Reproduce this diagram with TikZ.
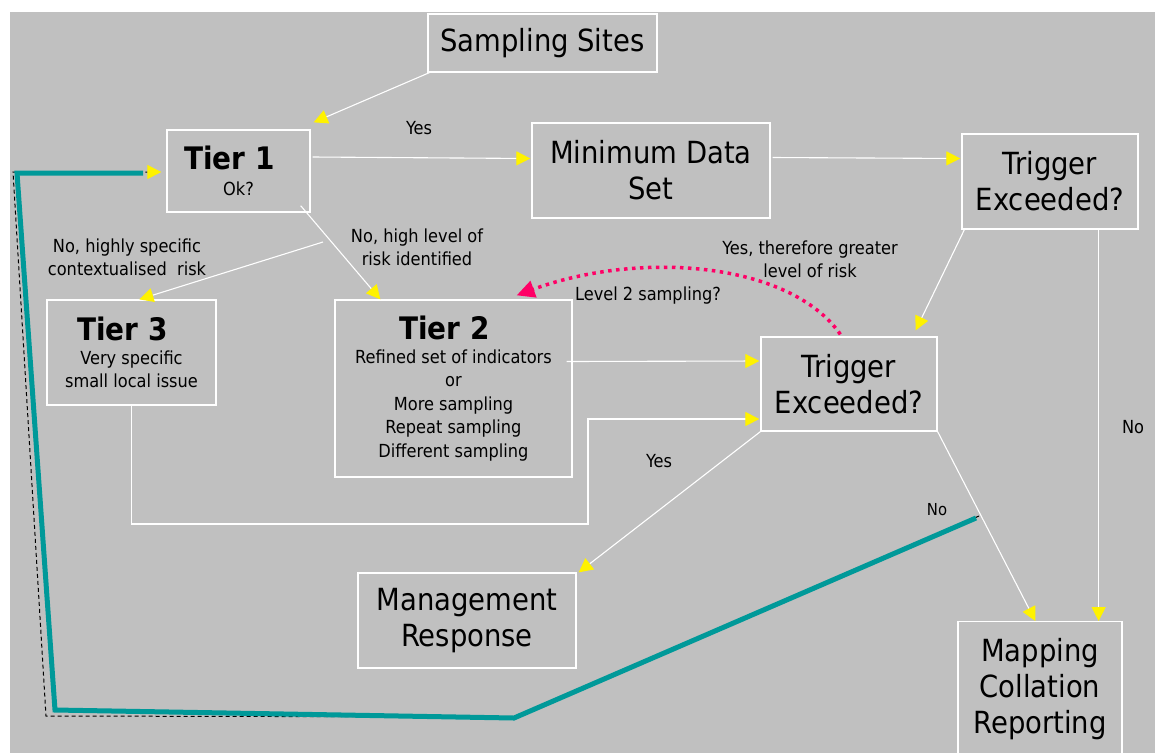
\documentclass[tikz,border=0pt]{standalone}
\usepackage{fontspec}
\setmainfont{DejaVu Sans Condensed}
\usetikzlibrary{arrows.meta,calc}
\definecolor{bg}{HTML}{C0C0C0}
\definecolor{tealline}{HTML}{009999}
\definecolor{pinkline}{HTML}{FF0066}
\newcommand\tierfont{\fontsize{31}{32}\selectfont\bfseries}
\newcommand\tierhead[1]{{\tierfont #1}\hspace*{18pt}}
\tikzset{
 box/.style={draw=white, line width=1.3pt, align=center, inner sep=0pt, text=black},
 big/.style={font=\fontsize{30.5}{36}\selectfont},
 mid/.style={font=\fontsize{18}{23.5}\selectfont},
 conn/.style={draw=white, line width=1.1pt, -{Triangle[length=14pt,width=14pt,color=yellow]}},
 lbl/.style={font=\fontsize{18}{23}\selectfont, align=center, inner sep=0pt},
}
\begin{document}
\begin{tikzpicture}[x=1pt,y=-1pt]
\fill[bg] (10,12) rectangle (1155,753);
\useasboundingbox (0,0) rectangle (1155,753);

% boxes
\node[box, big, minimum width=229pt, minimum height=58pt] (ss) at (542.5,43) {Sampling Sites};
\node[box, mid, minimum width=143pt, minimum height=82pt] (t1) at (238.5,171)
  {\tierhead{Tier 1}\\[2pt]Ok?};
\node[box, big, minimum width=238pt, minimum height=95pt] (mds) at (651,170.5) {Minimum Data\\Set};
\node[box, big, minimum width=176pt, minimum height=95pt] (tr1) at (1050,181.5) {Trigger\\Exceeded?};
\node[box, mid, minimum width=169pt, minimum height=105pt] (t3) at (131.5,352.5)
  {\tierhead{Tier 3}\\[0pt]Very specific\\small local issue};
\node[box, mid, minimum width=237pt, minimum height=177pt] (t2) at (453.5,388.5)
  {\tierhead{Tier 2}\\[0pt]Refined set of indicators\\or\\More sampling\\Repeat sampling\\Different sampling};
\node[box, big, minimum width=176pt, minimum height=94pt] (tr2) at (849,384) {Trigger\\Exceeded?};
\node[box, big, minimum width=218pt, minimum height=95pt] (mr) at (467,620.5) {Management\\Response};
\node[box, big, minimum width=164pt, minimum height=134pt, anchor=north] (mcr) at (1040,621)
  {Mapping\\Collation\\Reporting};

% black dashed path beneath teal line, ending in the yellow tip at Tier 1
\coordinate (tstart) at (979,516);
\draw[black, line width=1pt, dash pattern=on 4pt off 3pt,
  -{Triangle[length=14pt,width=14pt,color=yellow]}]
  (tstart) -- (514,717) -- (46,716) -- (13,172) -- ($(t1.west)+(-5,1)$);
% teal thick line
\draw[tealline, line width=5pt, line join=miter] ($(tstart)+(-3,2)$) -- (514,718) -- (55,710) -- (17,173) -- (143,173);

% connectors
\draw[conn] ($(ss.south west)+(2,0)$) -- ($(t1.north east)+(3,-7)$);
\draw[conn] ($(t1.east)+(2,-14)$) -- ($(mds.west)+(-1,-12)$);
\draw[conn] ($(mds.east)+(2,-13)$) -- ($(tr1.west)+(-1,-23)$);
\draw[conn] ($(t1.south east)+(-10,-7)$) -- ($(t2.north west)+(46,0)$);
\draw[conn] (323,242) -- ($(t3.north west)+(93,0)$);
\draw[conn] ($(tr1.south west)+(3,0)$) -- ($(tr2.north east)+(-22,-6)$);
\draw[conn] ($(tr1.south east)+(-40,0)$) -- ($(mcr.north east)+(-24,0)$);
\draw[conn] ($(t2.east)+(-6,-27)$) -- ($(tr2.west)+(-1,-23)$);
\draw[conn] (t3.south) -- (t3.south |- 0,524) -- (588,524) -- (588,419) -- ($(tr2.west)+(-1,35)$);
\draw[conn] (tr2.south west) -- ($(mr.north east)+(2,0)$);
\draw[conn] (tr2.south east) -- ($(mcr.north west)+(78,0)$);

% pink dotted curve
\draw[pinkline, line width=3.5pt, dash pattern=on 3.5pt off 4.5pt,
  -{Triangle[length=18pt,width=17pt,color=pinkline]}]
  ($(tr2.north west)+(80,-2)$) .. controls (790,262) and (640,250) .. ($(t2.north east)+(-56,-4)$);

% labels
\node[lbl] (lyes1) at (419,128) {Yes};
\node[lbl] (lnohigh) at (417,247) {No, high level of\\risk identified};
\node[lbl] (lnospec) at (127,257) {No, highly specific\\contextualised \ risk};
\node[lbl] (lgreater) at (810,259) {Yes, therefore greater\\level of risk};
\node[lbl] (llevel2) at (648,296) {Level 2 sampling?};
\node[lbl] (lyes2) at (659,461) {Yes};
\node[lbl, font=\fontsize{16.5}{18}\selectfont] (lno1) at (937,510) {No};
\node[lbl] (lno2) at (1133,427) {No};
\end{tikzpicture}
\end{document}
